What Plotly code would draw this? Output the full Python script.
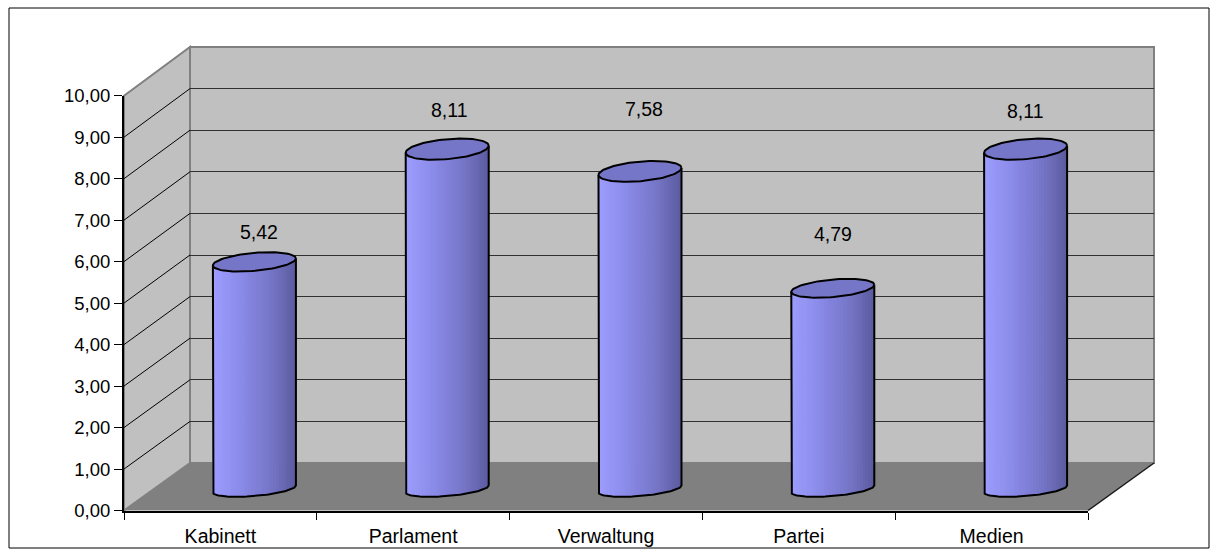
import numpy as np
import plotly.graph_objects as go

# ---------------- data ----------------
categories = ["Kabinett", "Parlament", "Verwaltung", "Partei", "Medien"]
values = [5.42, 8.11, 7.58, 4.79, 8.11]
y_tick_values = [0, 1, 2, 3, 4, 5, 6, 7, 8, 9, 10]
y_tick_labels = ["0,00", "1,00", "2,00", "3,00", "4,00", "5,00",
                 "6,00", "7,00", "8,00", "9,00", "10,00"]

# ---------------- style / geometry (pixels) ----------------
W, H = 1218, 556
FRONT_L, FRONT_R = 124, 1088
FRONT_Y0, FRONT_Y10 = 510.5, 95.7
BACK_L, BACK_R = 190, 1154
BACK_Y0, BACK_Y10 = 463, 47
MID_DX = 34
MID_Y0, MID_Y10 = 489, 70
MID_UNIT = (MID_Y0 - MID_Y10) / 10.0
CAT_PX = (FRONT_R - FRONT_L) / 5.0
CYL_A_PX = 41.5
TILT_PX = 3.5
LABEL_YSHIFT = [30, 39, 62, 54, 38]
LABEL_XSHIFT = [5, 2, 4, 0, 0]
FONT = "Liberation Sans, Arial, sans-serif"


def px(x):
    return x / W


def py(y):
    return 1 - y / H


def ell_b(v):
    return 7 + 0.37 * v


fig = go.Figure()

# invisible trace to set up the category axis of the front plane
fig.add_trace(go.Scatter(x=categories, y=values, mode="markers",
                         marker=dict(opacity=0), hoverinfo="skip",
                         showlegend=False, xaxis="x", yaxis="y"))
# back-wall subplot (gridlines only)
fig.add_trace(go.Scatter(x=[None], y=[None], mode="markers", hoverinfo="skip",
                         showlegend=False, xaxis="x2", yaxis="y2"))

# ---------------- cylinders on the mid-depth plane ----------------
a = CYL_A_PX / CAT_PX
N = 30
stops = [(0.0, (158, 158, 255)), (0.35, (138, 138, 232)),
         (0.7, (118, 118, 200)), (1.0, (92, 92, 160))]


def grad(t):
    for (t0, c0), (t1, c1) in zip(stops[:-1], stops[1:]):
        if t <= t1:
            f = (t - t0) / (t1 - t0)
            return "rgb(%d,%d,%d)" % tuple(round(c0[i] + f * (c1[i] - c0[i])) for i in range(3))
    return "rgb(%d,%d,%d)" % stops[-1][1]


def y_bottom(u):
    return (-ell_b(0) * np.sqrt(max(0.0, 1 - u * u)) + TILT_PX * u) / MID_UNIT


for j in range(N):
    xs, ys = [], []
    for i, v in enumerate(values):
        x0 = -a + 2 * a * j / N
        x1 = min(a, -a + 2 * a * (j + 1) / N + 0.0008)
        pts = np.linspace(x0, x1, 5)
        for x in pts:
            xs.append(i + x)
            ys.append(y_bottom(x / a))
        xs.append(i + x1); ys.append(v + TILT_PX * (x1 / a) / MID_UNIT)
        xs.append(i + x0); ys.append(v + TILT_PX * (x0 / a) / MID_UNIT)
        xs.append(i + x0); ys.append(y_bottom(x0 / a))
        xs.append(None); ys.append(None)
    col = grad((j + 0.5) / N)
    fig.add_trace(go.Scatter(x=xs, y=ys, mode="lines", fill="toself",
                             fillcolor=col, line=dict(color=col, width=1),
                             hoverinfo="skip", showlegend=False,
                             xaxis="x3", yaxis="y3"))

# body outline
ox, oy = [], []
for i, v in enumerate(values):
    ox.append(i - a); oy.append(v - TILT_PX / MID_UNIT)
    for t in np.linspace(np.pi, 2 * np.pi, 60):
        u = np.cos(t)
        ox.append(i + a * u)
        oy.append((ell_b(0) * np.sin(t) + TILT_PX * u) / MID_UNIT)
    ox.append(i + a); oy.append(v + TILT_PX / MID_UNIT)
    ox.append(None); oy.append(None)
fig.add_trace(go.Scatter(x=ox, y=oy, mode="lines",
                         line=dict(color="black", width=2),
                         hoverinfo="skip", showlegend=False,
                         xaxis="x3", yaxis="y3"))

# top ellipses
tx, ty = [], []
for i, v in enumerate(values):
    b = ell_b(v)
    for t in np.linspace(0, 2 * np.pi, 90):
        u = np.cos(t)
        tx.append(i + a * u)
        ty.append(v + (b * np.sin(t) + TILT_PX * u) / MID_UNIT)
    tx.append(None); ty.append(None)
fig.add_trace(go.Scatter(x=tx, y=ty, mode="lines", fill="toself",
                         fillcolor="rgb(118,118,200)",
                         line=dict(color="black", width=2),
                         hoverinfo="skip", showlegend=False,
                         xaxis="x3", yaxis="y3"))

# data labels
annotations = []
for i, v in enumerate(values):
    annotations.append(dict(
        x=i, y=v, xref="x3", yref="y3", showarrow=False,
        text=("%.2f" % v).replace(".", ","), yanchor="middle",
        xanchor="center", yshift=LABEL_YSHIFT[i], xshift=LABEL_XSHIFT[i],
        font=dict(family=FONT, size=19.5, color="black")))

# ---------------- 3D frame (walls / floor) ----------------
fu = (FRONT_Y0 - FRONT_Y10) / 10.0
bu = (BACK_Y0 - BACK_Y10) / 10.0


def path(points):
    return "M " + " L ".join("%f,%f" % (px(x), py(y)) for x, y in points) + " Z"


shapes = [
    # outer border
    dict(type="rect", xref="paper", yref="paper", x0=px(9), x1=px(1209),
         y0=py(548), y1=py(8), line=dict(color="black", width=1),
         fillcolor="rgba(0,0,0,0)", layer="above"),
    # back wall
    dict(type="rect", xref="paper", yref="paper", x0=px(BACK_L), x1=px(BACK_R),
         y0=py(BACK_Y0), y1=py(BACK_Y10), fillcolor="#C0C0C0",
         line=dict(color="#808080", width=2), layer="below"),
    # left wall
    dict(type="path", xref="paper", yref="paper",
         path=path([(FRONT_L, FRONT_Y10), (BACK_L, BACK_Y10),
                    (BACK_L, BACK_Y0), (FRONT_L, FRONT_Y0)]),
         fillcolor="#C0C0C0", line=dict(color="#808080", width=2), layer="below"),
    # floor
    dict(type="path", xref="paper", yref="paper",
         path=path([(FRONT_L, FRONT_Y0), (FRONT_R, FRONT_Y0),
                    (BACK_R, BACK_Y0), (BACK_L, BACK_Y0)]),
         fillcolor="#808080", line=dict(width=0), layer="below"),
    # floor right edge
    dict(type="line", xref="paper", yref="paper", x0=px(FRONT_R), y0=py(FRONT_Y0),
         x1=px(BACK_R), y1=py(BACK_Y0), line=dict(color="#1a1a1a", width=1.5),
         layer="below"),
]
for k in range(1, 10):
    shapes.append(dict(type="line", xref="paper", yref="paper",
                       x0=px(FRONT_L), y0=py(FRONT_Y0 - k * fu),
                       x1=px(BACK_L), y1=py(BACK_Y0 - k * bu),
                       line=dict(color="black", width=1), layer="below"))

fig.update_layout(
    template="none",
    width=W, height=H, autosize=False,
    margin=dict(l=0, r=0, t=0, b=0, pad=0, autoexpand=False),
    paper_bgcolor="white", plot_bgcolor="rgba(0,0,0,0)",
    font=dict(family=FONT, color="black"),
    showlegend=False,
    shapes=shapes, annotations=annotations,
    xaxis=dict(domain=[px(FRONT_L), px(FRONT_R)], type="category",
               categoryorder="array", categoryarray=categories,
               range=[-0.5, 4.5], anchor="y", showline=True, linecolor="black",
               linewidth=2, ticks="outside", ticklen=7, tickwidth=1,
               tickcolor="black", tickson="boundaries", showgrid=False,
               zeroline=False, tickfont=dict(size=19.5, family=FONT),
               ticklabelstandoff=7, automargin=False, fixedrange=True),
    yaxis=dict(domain=[py(FRONT_Y0), py(FRONT_Y10)], range=[0, 10], anchor="x",
               tickvals=y_tick_values, ticktext=y_tick_labels,
               showline=True, linecolor="black", linewidth=2,
               ticks="outside", ticklen=8, tickwidth=1, tickcolor="black",
               showgrid=False, zeroline=False, automargin=False,
               tickfont=dict(size=18.5, family=FONT), fixedrange=True),
    xaxis2=dict(domain=[px(BACK_L), px(BACK_R)], range=[-0.5, 4.5], anchor="y2",
                visible=False, fixedrange=True),
    yaxis2=dict(domain=[py(BACK_Y0), py(BACK_Y10)], range=[0, 10], anchor="x2",
                tickvals=[1, 2, 3, 4, 5, 6, 7, 8, 9], showticklabels=False,
                ticks="", showgrid=True, gridcolor="#303030", gridwidth=1,
                showline=False, zeroline=False, fixedrange=True),
    xaxis3=dict(domain=[px(FRONT_L + MID_DX), px(FRONT_R + MID_DX)],
                range=[-0.5, 4.5], anchor="y3", visible=False, fixedrange=True),
    yaxis3=dict(domain=[py(MID_Y0 + MID_UNIT), py(MID_Y10)], range=[-1, 10],
                anchor="x3", visible=False, fixedrange=True),
)

fig.write_html("out.html", config={"responsive": False, "displayModeBar": False},
               post_script="document.body.style.margin='0';")
